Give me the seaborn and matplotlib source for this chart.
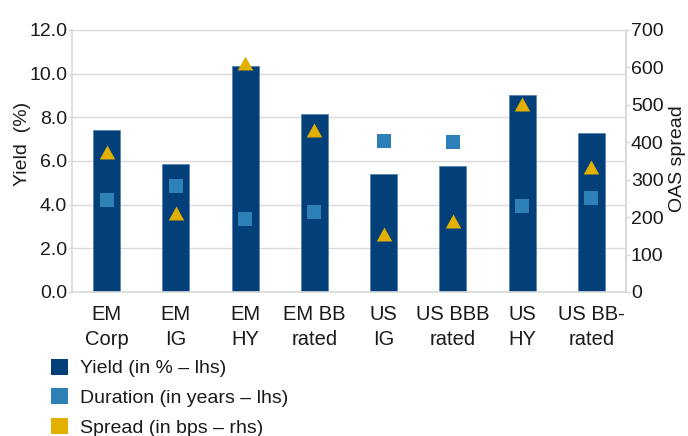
import numpy as np
import pandas as pd
import matplotlib
matplotlib.use("Agg")
import matplotlib.pyplot as plt
from matplotlib.patches import Patch
import seaborn as sns

categories = ["EM\nCorp", "EM\nIG", "EM\nHY", "EM BB\nrated", "US\nIG", "US BBB\nrated", "US\nHY", "US BB-\nrated"]
yield_pct = [7.44, 5.84, 10.35, 8.14, 5.42, 5.77, 9.01, 7.27]
duration_yrs = [4.23, 4.87, 3.36, 3.66, 6.93, 6.89, 3.96, 4.32]
spread_bps = [375, 212, 613, 433, 155, 189, 503, 333]

left_ticks = [0, 2, 4, 6, 8, 10, 12]
right_ticks = [0, 100, 200, 300, 400, 500, 600, 700]

NAVY = "#033f78"
BLUE = "#2e80b9"
GOLD = "#e2b000"
GRID = "#d9d9d9"
TEXT = "#1a1a1a"

sns.set_theme(style="white")
plt.rcParams["font.family"] = ["Liberation Sans", "DejaVu Sans"]
FS = 14
FS_CAT = 14.5

df = pd.DataFrame({"cat": categories, "yield": yield_pct})
pos = np.arange(len(categories))

fig = plt.figure(figsize=(6.88, 4.36), dpi=100)
ax = fig.add_axes([0.1047, 0.3303, 0.8052, 0.6009])

sns.barplot(data=df, x="cat", y="yield", color=NAVY, saturation=1, width=0.39,
            edgecolor="#5a86b0", linewidth=0.6, ax=ax, zorder=2)
ax.scatter(pos, duration_yrs, marker="s", s=105, color=BLUE, zorder=3, linewidths=0)

ax.set_xlim(-0.5, len(categories) - 0.5)
ax.set_ylim(0, 12)
ax.set_yticks(left_ticks)
ax.set_yticklabels([f"{v:.1f}" for v in left_ticks])
ax.yaxis.grid(True, color=GRID, linewidth=1)
ax.set_axisbelow(True)
ax.set_xlabel("")
ax.set_ylabel("Yield  (%)", fontsize=FS, color=TEXT)
ax.yaxis.set_label_coords(-0.074, 0.564)

# x ticks sit between categories, labels centred under bars
ax.set_xticks(np.arange(-0.5, len(categories)), minor=False)
ax.set_xticklabels([""] * (len(categories) + 1))
ax.set_xticks(pos, minor=True)
ax.set_xticklabels(categories, minor=True)
ax.tick_params(axis="x", which="major", length=4, color=GRID, width=1, direction="out")
ax.tick_params(axis="x", which="minor", length=0, pad=9.5, labelsize=FS_CAT, labelcolor=TEXT)
ax.tick_params(axis="y", length=3, color=GRID, width=1, direction="out", pad=0.5,
               labelsize=FS, labelcolor=TEXT)
for lbl in ax.get_xticklabels(minor=True):
    lbl.set_linespacing(1.4)

ax.spines["top"].set_visible(False)
for side in ["left", "right", "bottom"]:
    ax.spines[side].set_color(GRID)
    ax.spines[side].set_linewidth(1.2)

tri = [(-1, -0.9), (1, -0.9), (0, 0.9)]
ax2 = ax.twinx()
ax2.scatter(pos, spread_bps, marker=tri, s=125, color=GOLD, zorder=4, linewidths=0)
ax2.set_ylim(0, 700)
ax2.set_yticks(right_ticks)
ax2.tick_params(axis="y", length=3, color=GRID, width=1, direction="out", pad=0.5,
                labelsize=FS, labelcolor=TEXT)
ax2.set_ylabel("OAS spread", fontsize=FS, color=TEXT)
ax2.yaxis.set_label_coords(1.0775, 0.51)
ax2.grid(False)
for side in ["top", "left", "bottom"]:
    ax2.spines[side].set_visible(False)
ax2.spines["right"].set_color(GRID)
ax2.spines["right"].set_linewidth(1.2)

handles = [
    Patch(facecolor=NAVY, edgecolor="none", label="Yield (in % – lhs)"),
    Patch(facecolor=BLUE, edgecolor="none", label="Duration (in years – lhs)"),
    Patch(facecolor=GOLD, edgecolor="none", label="Spread (in bps – rhs)"),
]
fig.legend(handles=handles, loc="upper left", bbox_to_anchor=(0.0741, 0.177),
           frameon=False, fontsize=FS, handlelength=0.875, handleheight=0.875,
           handletextpad=0.62, labelspacing=0.56, borderaxespad=0, borderpad=0,
           labelcolor=TEXT)

fig.savefig("out.png", dpi=100)
